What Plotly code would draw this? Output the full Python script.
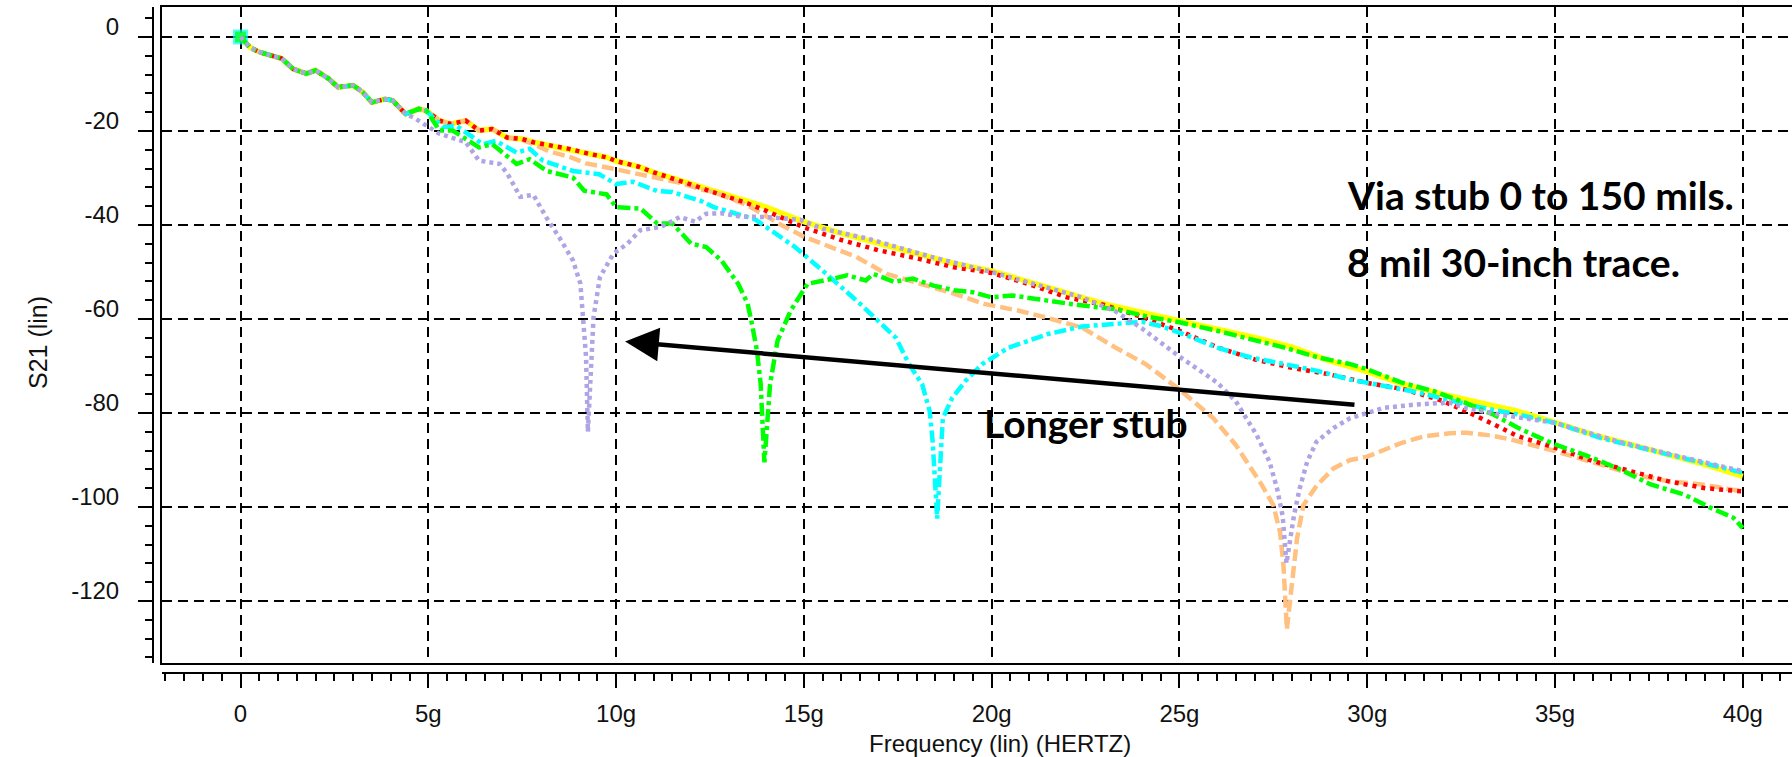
import plotly.graph_objects as go

# ---------------- data (frequency in GHz, S21 in dB) ----------------
SHARED_F = [0, 0.25, 0.5, 0.85, 1.1, 1.4, 1.75, 2.0, 2.35, 2.6, 3.0, 3.25, 3.5, 3.85, 4.05, 4.4]
SHARED_V = [0, -2.2, -3.2, -3.9, -4.6, -6.8, -7.8, -7.1, -8.9, -10.7, -10.3, -11.7, -13.9, -13.2, -13.5, -16.4]

YELLOW_F = [4.75, 4.95, 5.3, 5.6, 6.0, 6.35, 6.7, 7.1, 7.5, 7.8, 8.25, 8.75, 9.3, 9.75, 10, 10.6, 11, 11.5, 12, 12.5,
            13, 13.5, 14, 14.5, 15, 16, 17, 18, 19, 20, 21, 22, 23, 24, 25, 26, 27, 28, 29, 30,
            31, 32, 33, 34, 35, 36, 37, 38, 39, 40]
YELLOW_V = [-15.3, -15.7, -17.8, -18.5, -17.8, -19.9, -19.6, -21.4, -21.7, -22.4, -23.1, -23.8, -24.9, -25.6, -26.4, -27.6, -28.8, -30, -31.3, -32.5,
            -33.6, -34.7, -36.2, -37.8, -39.3, -41.8, -43.9, -46, -48.2, -49.8, -52.1, -54.6, -56.8, -58.6, -60.4, -62.1, -63.9, -66, -68.9, -71.2,
            -74, -76, -77.8, -79.6, -82, -84.6, -86.7, -88.8, -91, -93.5]

RED_F = [4.75, 4.95, 5.3, 5.6, 6.0, 6.35, 6.7, 7.1, 7.5, 7.8, 8.25, 8.75, 9.3, 9.75, 10, 10.6, 11, 11.5, 12, 12.5,
         13, 13.5, 14, 14.5, 15, 16, 17, 18, 19, 20, 21, 22, 23, 24, 25, 26, 27, 28, 29, 30,
         31, 32, 33, 34, 35, 36, 37, 38, 39, 40]
RED_V = [-15.3, -15.7, -17.8, -18.5, -17.8, -19.9, -19.6, -21.4, -21.7, -22.4, -23.1, -23.8, -24.9, -25.6, -26.4, -27.6, -28.8, -30, -31.4, -32.8,
         -34, -35.4, -37, -38.8, -40.5, -43.2, -45.4, -47.1, -49, -50.2, -52.6, -55.4, -57, -59.6, -62.5, -66, -68.6, -70.4, -71.8, -73.6,
         -75, -77.4, -81, -84.9, -87.4, -90.2, -92.4, -94.5, -96, -96.7]

ORANGE_F = [4.75, 4.95, 5.3, 5.6, 6.0, 6.35, 6.7, 7.1, 7.5, 7.8, 8.2, 8.8, 9.2, 9.9, 10.8, 11.7, 12.3, 12.6, 13.5, 14.4,
            15, 15.6, 16.4, 17.2, 18.1, 19, 19.8, 20.7, 21.5, 22.4, 23.3, 24.1, 25, 25.9, 26.5, 27.2, 27.5, 27.68, 27.77, 27.86,
            28.13, 28.3, 28.66, 29.1, 29.55, 30, 30.9, 31.5, 32.2, 32.64, 33.3, 33.8, 35, 36.2, 37.1, 38, 38.9, 40]
ORANGE_V = [-15.3, -15.7, -17.8, -18.5, -17.8, -19.9, -19.6, -21.4, -21.9, -22.8, -24.3, -25.6, -26.9, -28, -29.5, -31, -32.5, -33, -35.8, -40,
            -42.5, -44.3, -46.8, -50.4, -52.5, -54.6, -56.8, -58.2, -59.8, -61.8, -66.1, -69.6, -75, -81.1, -86.8, -95.4, -99.6, -105.4, -112.5, -126,
            -106.8, -99.6, -95.4, -91.8, -90, -89.3, -86.4, -85, -84.3, -84.2, -84.8, -85.6, -88.1, -91, -93.1, -94.5, -95.2, -96.7]

CYAN_F = [4.75, 4.95, 5.4, 5.75, 6.45, 6.8, 7.35, 7.7, 8.05, 8.85, 9.55, 10.0, 10.45, 11.1, 11.5, 12.3, 12.6, 13.7, 14.3, 14.75,
          15.6, 16.5, 17.45, 17.8, 18.15, 18.35, 18.43, 18.5, 18.55, 18.7, 18.95, 19.3, 19.75, 20.45, 21, 21.5, 22.4, 23.3, 24, 24.5,
          25.1, 26, 26.9, 27.8, 28.7, 29.55, 30.45, 31.35, 32.2, 33, 34, 35, 36.2, 38, 40]
CYAN_V = [-15.3, -15.7, -19.2, -18.9, -22.8, -22.1, -24.6, -23.8, -26.3, -28.5, -29.2, -31.3, -30.8, -32.8, -33, -35, -36.2, -38.8, -42, -44.6,
          -50.4, -56.8, -64, -69.6, -73.9, -79.6, -86.1, -95.4, -102.5, -81.1, -76.8, -73.2, -69.6, -66.1, -64.6, -63.2, -61.6, -61.1, -60.6, -61.5,
          -63.2, -66.1, -68.2, -69.6, -71.1, -72.9, -74.3, -75.6, -77.3, -78.8, -80.3, -82.1, -85.3, -88.8, -92.7]

GREEN_F = [4.75, 4.95, 5.3, 5.65, 6.35, 6.7, 7.35, 7.7, 8.15, 8.85, 9.15, 9.75, 10.0, 10.65, 11.1, 11.5, 12.0, 12.4, 12.8, 13.25,
           13.5, 13.6, 13.75, 13.85, 13.9, 13.95, 14.1, 14.3, 14.65, 15.1, 15.8, 16.15, 16.65, 16.85, 17.4, 17.9, 18.45, 19, 19.5, 20,
           20.55, 21.1, 21.6, 22.1, 22.8, 23.3, 24.2, 25, 26, 26.9, 27.8, 28.7, 29.55, 30, 30.9, 31.75, 32.6, 33.35, 34, 34.6,
           35, 35.75, 36.65, 37.55, 38.45, 39.15, 39.75, 40]
GREEN_V = [-15.3, -15.7, -19.9, -19.9, -23.5, -22.8, -27, -26, -28.5, -29.9, -32.7, -33.5, -36.2, -36.5, -39.7, -39.7, -44, -44.7, -47.5, -52.5,
           -56.7, -60.3, -66.7, -73.8, -82.3, -90.5, -73.9, -64.6, -58.2, -52.5, -51.4, -50.7, -51.8, -50.4, -52.1, -51.4, -52.9, -53.9, -54.3, -55.4,
           -55, -55.7, -56.1, -56.8, -57.5, -57.9, -59.6, -60.7, -62.5, -64.3, -66.1, -68.2, -69.6, -70.7, -73.5, -75.3, -77.8, -80.3, -83.1, -85.3,
           -86.7, -88.8, -91.7, -95.2, -97.4, -100.2, -102.3, -104.5]

PURPLE_F = [4.6, 5.3, 6.0, 6.35, 6.9, 7.1, 7.45, 7.8, 8.15, 8.5, 8.85, 9.05, 9.13, 9.2, 9.25, 9.4, 9.57, 9.93, 10.3, 10.65,
            11.2, 11.7, 12.1, 12.4, 12.8, 13.3, 14, 14.9, 15.5, 16.7, 18.4, 20, 21.1, 22.4, 23.3, 24, 25, 25.5, 26, 26.5,
            27.05, 27.4, 27.6, 27.75, 27.85, 28.05, 28.2, 28.4, 28.65, 29.1, 29.55, 30, 30.45, 31.3, 32.2, 32.6, 33.5, 35, 36.65, 38.45, 40]
PURPLE_V = [-17.1, -20.6, -22.4, -26.3, -27, -29, -34, -33.6, -38.5, -42.8, -47.5, -52.5, -59.6, -68, -84, -59.6, -51.1, -46.1, -44, -41.1,
            -40.4, -38.3, -39.3, -37.6, -37.5, -38.2, -38.3, -38.9, -40.8, -42.9, -46.8, -50, -52.5, -55.4, -58.4, -62, -68, -70.8, -73.5, -77.5,
            -84.6, -90.4, -96.1, -102, -112, -101.8, -96.1, -90.4, -86.1, -83.2, -81.1, -80, -78.9, -78.2, -77.8, -78.9, -80.3, -82.1, -86, -89.5, -92.4]

X_TICKS = [0, 5, 10, 15, 20, 25, 30, 35, 40]
X_TICK_LABELS = ["0", "5g", "10g", "15g", "20g", "25g", "30g", "35g", "40g"]
Y_TICKS = [0, -20, -40, -60, -80, -100, -120]
Y_TICK_LABELS = ["0", "-20", "-40", "-60", "-80", "-100", "-120"]
X_RANGE = [-2.09, 41.31]
Y_RANGE = [-133.2, 6.38]

# ---------------- styles ----------------
SERIES = [
    ("stub 0 mil", YELLOW_F, YELLOW_V, "#FFFF00", "solid", 5.5, 0),
    ("stub 50 mil", ORANGE_F, ORANGE_V, "#FFC080", "12px,5px", 4.5, 0),
    ("stub 25 mil", RED_F, RED_V, "#FF0000", "4px,5px", 4.5, 0),
    ("stub 75 mil", CYAN_F, CYAN_V, "#00FFFF", "12px,4px,4px,4px", 4.5, 15),
    ("stub 100 mil", GREEN_F, GREEN_V, "#00FF00", "13px,4px,4px,4px", 4.5, 11),
    ("stub 150 mil", PURPLE_F, PURPLE_V, "#B0A4E4", "4px,4px", 4.5, 0),
]

fig = go.Figure()
for name, f_tail, v_tail, color, dash, width, msize in SERIES:
    xs = SHARED_F + f_tail
    ys = SHARED_V + v_tail
    sizes = [msize] + [0] * (len(xs) - 1)
    fig.add_trace(go.Scatter(
        x=xs, y=ys, name=name, mode="lines+markers",
        line=dict(color=color, width=width, dash=dash),
        marker=dict(size=sizes, symbol="square", color=color, line=dict(width=0)),
        showlegend=False, hoverinfo="skip",
    ))

# dummy trace so that the detached tick axes are drawn
fig.add_trace(go.Scatter(x=[], y=[], xaxis="x2", yaxis="y2", showlegend=False, hoverinfo="skip"))

W, H = 1792, 757
ML, MR, MT, MB = 153, 0, 7, 84
pw, ph = W - ML - MR, H - MT - MB
xd0 = (162 - ML) / pw
yd0 = 10 / ph

tick_font = dict(family="Liberation Sans, Arial, sans-serif", size=24, color="#111111")
grid = dict(showgrid=True, gridcolor="black", gridwidth=2, griddash="10px,6px", zeroline=False)

fig.update_layout(
    width=W, height=H,
    margin=dict(l=ML, r=MR, t=MT, b=MB, pad=0),
    paper_bgcolor="white", plot_bgcolor="white",
    xaxis=dict(domain=[xd0, 1], range=X_RANGE, tickvals=X_TICKS, showticklabels=False, ticks="",
               showline=True, linecolor="black", linewidth=2, mirror=True, anchor="y", **grid),
    yaxis=dict(domain=[yd0, 1], range=Y_RANGE, tickvals=Y_TICKS, showticklabels=False, ticks="",
               showline=True, linecolor="black", linewidth=2, mirror=False, anchor="x", **grid),
    xaxis2=dict(domain=[xd0, 1], matches="x", overlaying="x", anchor="free", position=0, side="bottom",
                showline=True, linecolor="black", linewidth=2, showgrid=False, zeroline=False,
                ticks="outside", ticklen=14, tickwidth=2, tickcolor="black",
                tickmode="array", tickvals=X_TICKS, ticktext=X_TICK_LABELS, tickfont=tick_font,
                ticklabelstandoff=5,
                minor=dict(ticks="outside", dtick=0.5, tick0=0, ticklen=7, tickwidth=2, tickcolor="black", showgrid=False)),
    yaxis2=dict(domain=[yd0, 1], matches="y", overlaying="y", anchor="free", position=0, side="left",
                showline=True, linecolor="black", linewidth=2, showgrid=False, zeroline=False,
                ticks="outside", ticklen=14, tickwidth=2, tickcolor="black",
                tickmode="array", tickvals=Y_TICKS, ticktext=Y_TICK_LABELS, tickfont=tick_font,
                ticklabelstandoff=14, ticklabelshift=-10,
                minor=dict(ticks="outside", dtick=4, tick0=0, ticklen=7, tickwidth=2, tickcolor="black", showgrid=False)),
)

# axis titles
fig.add_annotation(text="Frequency (lin) (HERTZ)", xref="paper", yref="paper",
                   x=(1000 - ML) / pw, y=(H - MB - 743) / ph, showarrow=False,
                   xanchor="center", yanchor="middle", font=tick_font)
fig.add_annotation(text="S21 (lin)", xref="paper", yref="paper", textangle=-90,
                   x=(38 - ML) / pw, y=(H - MB - 343) / ph, showarrow=False,
                   xanchor="center", yanchor="middle", font=dict(family="Liberation Sans, Arial, sans-serif", size=25, color="#111111"))

# text notes
note_font = dict(family="Lato, Open Sans, sans-serif", size=39, color="black", weight="bold")
fig.add_annotation(text="Via stub 0 to 150 mils.", x=29.4, y=-33.6, xref="x", yref="y",
                   showarrow=False, xanchor="left", yanchor="middle", font=note_font)
fig.add_annotation(text="8 mil 30-inch trace.", x=29.4, y=-47.9, xref="x", yref="y",
                   showarrow=False, xanchor="left", yanchor="middle", font=note_font)
fig.add_annotation(text="Longer stub", x=19.75, y=-82.1, xref="x", yref="y",
                   showarrow=False, xanchor="left", yanchor="middle",
                   font=dict(family="Lato, Open Sans, sans-serif", size=39, color="black", weight="bold"))
fig.add_annotation(x=10.24, y=-64.8, ax=29.7, ay=-78.3, xref="x", yref="y", axref="x", ayref="y",
                   text="", showarrow=True, arrowhead=2, arrowsize=1.5, arrowwidth=4.5, arrowcolor="black",
                   standoff=0, startstandoff=0)

fig.write_html("out.html")
